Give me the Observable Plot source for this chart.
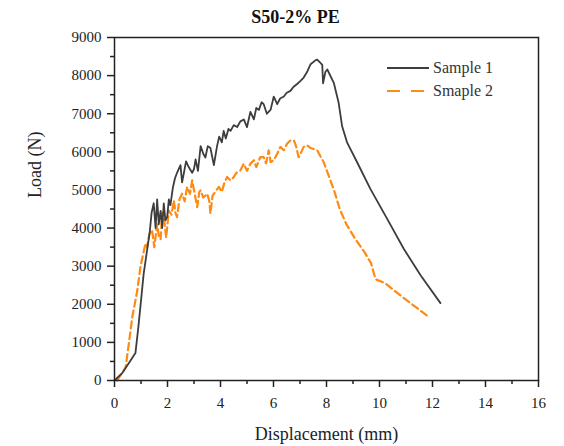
<!DOCTYPE html>
<html>
<head>
<meta charset="utf-8">
<script src="https://cdn.jsdelivr.net/npm/d3@7"></script>
<script src="https://cdn.jsdelivr.net/npm/@observablehq/plot@0.6"></script>
<style>
  html, body { margin: 0; padding: 0; background: #fff; }
  #wrap { position: relative; width: 564px; height: 446px; font-family: "Liberation Serif", "Times New Roman", serif; }
  #wrap svg text { font-family: "Liberation Serif", "Times New Roman", serif !important; }
  #legend { position: absolute; left: 387px; top: 56px; font-size: 16px; color: #333; }
  .row { display: flex; align-items: center; height: 23px; }
  .row svg { display: block; margin-right: 4px; }
</style>
</head>
<body>
<div id="wrap"><div id="legend"></div></div>
<script>
// ---- data ----
const chartTitle = "S50-2% PE";
const xLabel = "Displacement (mm)";
const yLabel = "Load (N)";
const seriesNames = ["Sample 1", "Smaple 2"];
const seriesColors = ["#3d3d3d", "#ff8a14"];

const s1Disp = [0, 0.3, 0.6, 0.79, 0.9, 0.98, 1.1, 1.23, 1.33, 1.4, 1.48, 1.55, 1.61, 1.67, 1.74, 1.8, 1.86, 1.92, 1.99, 2.05, 2.11, 2.2, 2.28, 2.36, 2.49, 2.55, 2.62, 2.7, 2.8, 2.93, 3.0, 3.06, 3.15, 3.25, 3.35, 3.43, 3.52, 3.62, 3.75, 3.87, 3.95, 4.05, 4.12, 4.2, 4.3, 4.38, 4.5, 4.63, 4.75, 4.88, 5.0, 5.13, 5.26, 5.35, 5.45, 5.55, 5.63, 5.75, 5.89, 6.01, 6.14, 6.25, 6.39, 6.5, 6.64, 6.75, 6.89, 7.0, 7.14, 7.27, 7.4, 7.58, 7.65, 7.75, 7.84, 7.87, 7.96, 8.03, 8.28, 8.46, 8.59, 8.78, 9.16, 9.66, 10.29, 10.92, 11.55, 12.3];
const s1Load = [0, 200, 520, 720, 1400, 1950, 2800, 3420, 3900, 4400, 4650, 4000, 4750, 4100, 4450, 4000, 4650, 4200, 4300, 4750, 4600, 5050, 5300, 5450, 5650, 5200, 5450, 5750, 5600, 5450, 5550, 5800, 5500, 6150, 5950, 5850, 6150, 6100, 5650, 6150, 6400, 6250, 6550, 6350, 6600, 6550, 6700, 6650, 6800, 6850, 6650, 7050, 6850, 7150, 7100, 7300, 7250, 7000, 7100, 7450, 7250, 7400, 7450, 7550, 7600, 7700, 7780, 7850, 7950, 8100, 8300, 8400, 8420, 8350, 8280, 7800, 8100, 8160, 7800, 7280, 6670, 6240, 5720, 5020, 4240, 3450, 2760, 2030];

const s2Disp = [0.1, 0.42, 0.54, 0.67, 0.86, 0.98, 1.17, 1.23, 1.32, 1.42, 1.5, 1.61, 1.67, 1.74, 1.8, 1.86, 1.95, 2.05, 2.15, 2.24, 2.3, 2.36, 2.45, 2.55, 2.65, 2.74, 2.85, 2.93, 3.0, 3.12, 3.2, 3.25, 3.35, 3.5, 3.58, 3.62, 3.7, 3.75, 3.85, 3.94, 4.05, 4.15, 4.25, 4.38, 4.5, 4.6, 4.75, 4.88, 5.0, 5.13, 5.26, 5.35, 5.5, 5.63, 5.72, 5.82, 5.89, 6.01, 6.14, 6.26, 6.39, 6.51, 6.64, 6.77, 6.85, 6.95, 7.02, 7.14, 7.27, 7.4, 7.65, 7.9, 8.28, 8.5, 8.75, 9.1, 9.45, 9.68, 9.8, 9.87, 10.2, 10.67, 11.17, 11.8];
const s2Load = [0, 350, 960, 1660, 2360, 2990, 3600, 3500, 3850, 3950, 3500, 4100, 3800, 3700, 4400, 4300, 3750, 4460, 4350, 4720, 4400, 4290, 4750, 4900, 4700, 5080, 4900, 5250, 5000, 4550, 4950, 4990, 4800, 4900, 4700, 4380, 4850, 4900, 5000, 5080, 4950, 5200, 5340, 5250, 5340, 5450, 5510, 5690, 5500, 5690, 5780, 5600, 5860, 5860, 5700, 6040, 5730, 5780, 5950, 6130, 6040, 6210, 6300, 6300, 6150, 5860, 5950, 6130, 6170, 6100, 6040, 5720, 5000, 4500, 4100, 3700, 3350, 3080, 2780, 2650, 2560, 2300, 2030, 1700];

const xMajorTicks = [0, 2, 4, 6, 8, 10, 12, 14, 16];
const xMinorTicks = [1, 3, 5, 7, 9, 11, 13, 15];
const yMajorTicks = [0, 1000, 2000, 3000, 4000, 5000, 6000, 7000, 8000, 9000];
const yMinorTicks = [500, 1500, 2500, 3500, 4500, 5500, 6500, 7500, 8500];

// ---- build tables ----
const s1 = s1Disp.map((d, i) => ({d, load: s1Load[i]}));
const s2 = s2Disp.map((d, i) => ({d, load: s2Load[i]}));

const serif = "'Liberation Serif', 'Times New Roman', serif";
const chart = Plot.plot({
  width: 564,
  height: 446,
  marginLeft: 114,
  marginRight: 26,
  marginTop: 37,
  marginBottom: 66,
  style: {fontFamily: serif, fontSize: "15px", color: "#222", background: "white"},
  x: {domain: [0, 16]},
  y: {domain: [0, 9000]},
  marks: [
    Plot.axisX(xMajorTicks, {tickSize: 7, tickPadding: 10, strokeWidth: 1.5, label: null, fontSize: 15, fontFamily: serif, tickFormat: d => String(d)}),
    Plot.axisX(xMinorTicks, {tickSize: 4, strokeWidth: 1.5, tickFormat: () => "", label: null}),
    Plot.axisY(yMajorTicks, {tickSize: 7, tickPadding: 6, strokeWidth: 1.5, label: null, fontSize: 15, fontFamily: serif, tickFormat: d => String(d)}),
    Plot.axisY(yMinorTicks, {tickSize: 4, strokeWidth: 1.5, tickFormat: () => "", label: null}),
    Plot.line(s2, {x: "d", y: "load", stroke: seriesColors[1], strokeWidth: 2.2, strokeDasharray: "7,4"}),
    Plot.line(s1, {x: "d", y: "load", stroke: seriesColors[0], strokeWidth: 1.8}),
    Plot.frame({stroke: "#222", strokeWidth: 1.5}),
    Plot.text([chartTitle], {frameAnchor: "top", dx: -31, dy: -20, fontSize: 18, fontWeight: "bold", fill: "#111", lineAnchor: "middle", fontFamily: serif}),
    Plot.text([xLabel], {frameAnchor: "bottom", dy: 54, fontSize: 18, fill: "#222", lineAnchor: "middle", fontFamily: serif}),
    Plot.text([yLabel], {frameAnchor: "left", dx: -79, dy: -11, rotate: -90, fontSize: 18, fill: "#222", lineAnchor: "middle", fontFamily: serif})
  ]
});
const wrap = document.getElementById("wrap");
wrap.insertBefore(chart, wrap.firstChild);

// ---- legend ----
const legend = document.getElementById("legend");
const dashes = [null, "13,11"];
seriesNames.forEach((name, i) => {
  const row = document.createElement("div");
  row.className = "row";
  const ns = "http://www.w3.org/2000/svg";
  const svg = document.createElementNS(ns, "svg");
  svg.setAttribute("width", 42);
  svg.setAttribute("height", 10);
  const ln = document.createElementNS(ns, "line");
  ln.setAttribute("x1", 0); ln.setAttribute("x2", 42);
  ln.setAttribute("y1", 5); ln.setAttribute("y2", 5);
  ln.setAttribute("stroke", seriesColors[i]);
  ln.setAttribute("stroke-width", i === 0 ? 1.8 : 2.2);
  if (dashes[i]) ln.setAttribute("stroke-dasharray", dashes[i]);
  svg.appendChild(ln);
  const span = document.createElement("span");
  span.textContent = name;
  row.appendChild(svg);
  row.appendChild(span);
  legend.appendChild(row);
});
</script>
</body>
</html>
